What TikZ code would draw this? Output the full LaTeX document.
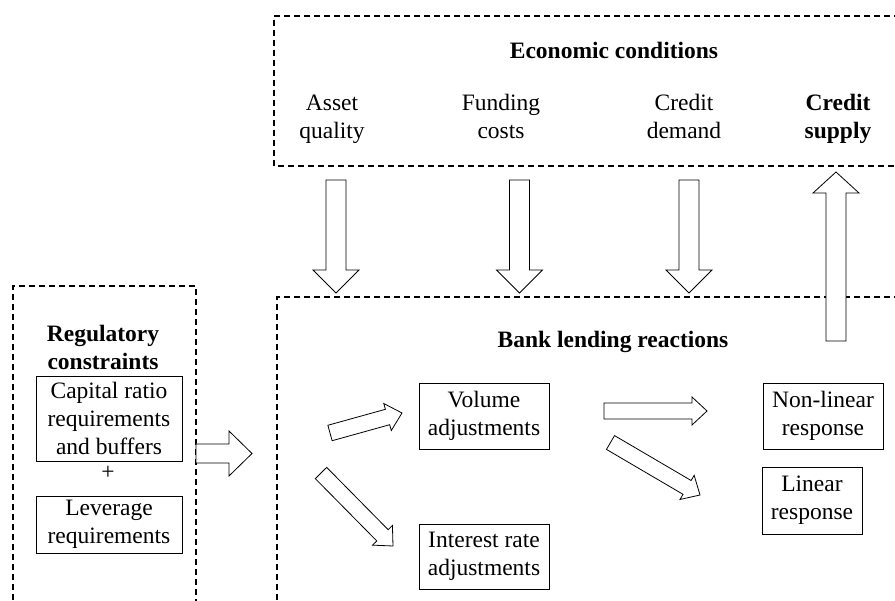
\documentclass[tikz,border=0pt]{standalone}
\usepackage{fontspec}
\setmainfont{Liberation Serif}
\usetikzlibrary{calc}
\tikzset{
  lbl/.style={align=center, inner sep=0pt, font=\fontsize{23.5}{28}\selectfont},
  hd/.style={align=center, inner sep=0pt, font=\fontsize{23.5}{28}\selectfont\bfseries},
  box/.style={lbl, draw, line width=0.9pt},
  dbox/.style={draw, line width=1.3pt, dash pattern=on 6pt off 4pt},
  blockarrow/.style={draw, line width=0.8pt, fill=white, line join=miter},
}
% #1 name, #2 tail, #3 tip, #4 shaft half width, #5 head half width, #6 head length
\newcommand\blockarr[6]{%
  \coordinate (#1-t) at #2;
  \coordinate (#1-p) at #3;
  \coordinate (#1-b) at ($(#1-p)!#6!(#1-t)$);
  \draw[blockarrow] ($(#1-t)!#4!90:(#1-p)$) -- ($(#1-b)!#4!90:(#1-p)$) -- ($(#1-b)!#5!90:(#1-p)$) -- (#1-p) -- ($(#1-b)!#5!-90:(#1-p)$) -- ($(#1-b)!#4!-90:(#1-p)$) -- ($(#1-t)!#4!-90:(#1-p)$) -- cycle;
}
\begin{document}
\begin{tikzpicture}[x=1pt, y=-1pt]
\clip (0,0) rectangle (895,601);
\fill[white] (0,0) rectangle (895,601);

% dashed containers
\draw[dbox] (930,16) -- (274,16) -- (274,166) -- (930,166);
\draw[dbox] (930,297) -- (277,297) -- (277,630);
\draw[dbox] (13,630) -- (13,286) -- (196,286) -- (196,630);

% economic conditions
\node[hd] (econ) at (614,50) {Economic conditions};
\node[lbl] (asset) at (332,119) {Asset\\quality};
\node[lbl] (fund) at (501,116.5) {Funding\\costs};
\node[lbl] (dem) at (684,116.5) {Credit\\demand};
\node[hd] (supply) at (838,119) {Credit\\supply};

% regulatory
\node[hd] (reg) at (103,347) {Regulatory\\constraints};
\node[box, minimum width=146pt, minimum height=85pt] (cap) at (109,418.5) {Capital ratio\\requirements\\and buffers};
\node[lbl] (plus) at (108,473) {+};
\node[box, minimum width=146pt, minimum height=57pt] (lev) at (109,524.5) {Leverage\\requirements};

% bank lending
\node[hd] (bank) at (613,342) {Bank lending reactions};
\node[box, minimum width=130pt, minimum height=66pt] (vol) at (484,416) {Volume\\adjustments};
\node[box, minimum width=130pt, minimum height=65pt] (int) at (484,556.5) {Interest rate\\adjustments};
\node[box, minimum width=120pt, minimum height=66pt] (nonlin) at (823,416) {Non-linear\\response};
\node[box, minimum width=100pt, minimum height=67pt] (lin) at (812,500.5) {Linear\\response};

% big block arrows
\blockarr{da1}{(336,180)}{(336,293)}{10pt}{23pt}{23pt}
\blockarr{da2}{(519.5,180)}{(519.5,293)}{10pt}{23pt}{23pt}
\blockarr{da3}{(689,180)}{(689,293)}{10pt}{23pt}{23pt}
\blockarr{ua}{(836,341)}{(836,172)}{10pt}{23pt}{21pt}
\blockarr{ra}{(196,453.5)}{(252,453.5)}{9.5pt}{22.5pt}{23pt}

% small block arrows
\blockarr{sv}{(330,433)}{(402,413)}{8pt}{14pt}{15pt}
\blockarr{si}{(321,473)}{(393,546)}{8pt}{14pt}{15pt}
\blockarr{sn}{(604,411)}{(707,411)}{8pt}{14pt}{15pt}
\blockarr{sl}{(610.5,442.5)}{(700,495)}{8pt}{14pt}{15pt}
\end{tikzpicture}
\end{document}
